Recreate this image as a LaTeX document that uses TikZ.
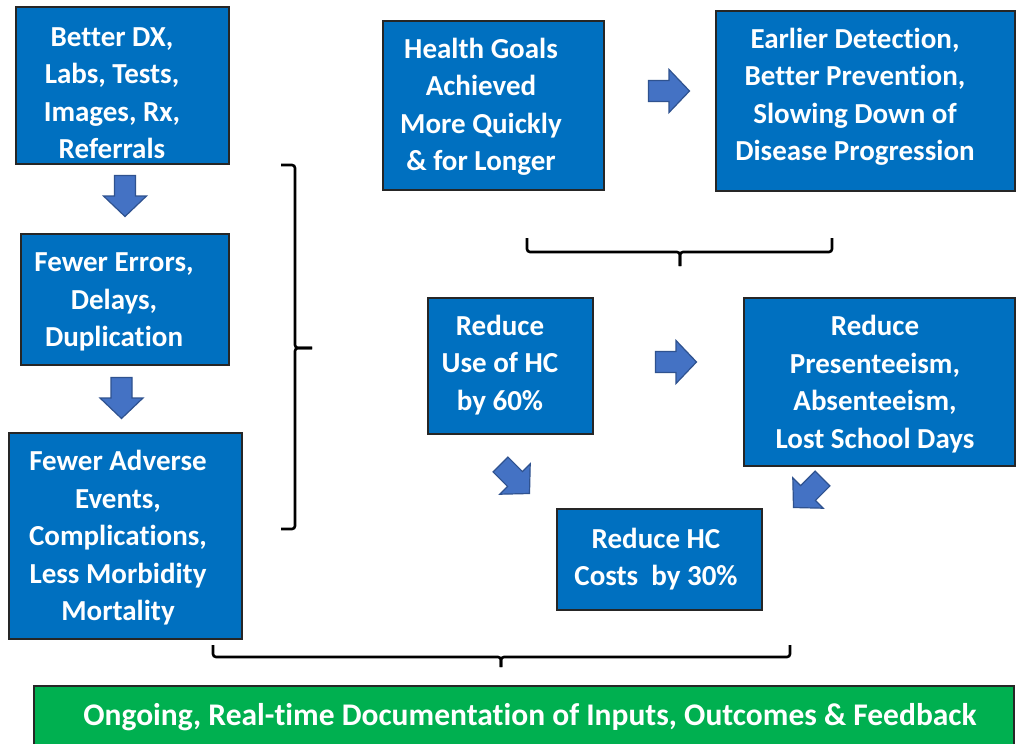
\documentclass[tikz,border=0pt]{standalone}
\usepackage{fontspec}
\setmainfont{Carlito}[RawFeature={-liga}]
\definecolor{boxblue}{HTML}{0070C0}
\definecolor{arrfill}{HTML}{4472C4}
\definecolor{arrline}{HTML}{2F528F}
\definecolor{boxgreen}{HTML}{00B050}
\newcommand\blockarrow[4]{%
  \begin{scope}[shift={(#2,#3)},rotate=#4]
    \path[barrow] (-20.5,-10.5) -- (0,-10.5) -- (0,-21.5) -- (20.5,0) -- (0,21.5) -- (0,10.5) -- (-20.5,10.5) -- cycle;
    \coordinate (#1) at (0,0);
  \end{scope}}
\tikzset{
  box/.style={draw=black!85, line width=1.5pt, fill=boxblue, anchor=north west, inner sep=0pt},
  gbox/.style={draw=black!85, line width=1.5pt, fill=boxgreen, anchor=north west, inner sep=0pt},
  txt/.style={text=white, font=\fontsize{29}{37.5}\selectfont\bfseries, align=center, inner sep=0pt},
  gtxt/.style={text=white, font=\fontsize{31.5}{37.5}\selectfont\bfseries, align=center, inner sep=0pt},
  barrow/.style={fill=arrfill, draw=arrline, line width=1.2pt, line join=miter},
  brace/.style={draw=black, line width=2.6pt, rounded corners=3pt}
}
\begin{document}
\begin{tikzpicture}[x=1pt,y=-1pt]
\useasboundingbox[fill=white] (0,0) rectangle (1017,744);
% boxes
\node[box, minimum width=213, minimum height=157] (b1) at (15,6) {};
\node[box, minimum width=208, minimum height=131] (b2) at (20,233) {};
\node[box, minimum width=233, minimum height=206] (b3) at (8,432) {};
\node[box, minimum width=221, minimum height=169] (b4) at (382,20) {};
\node[box, minimum width=299, minimum height=180] (b5) at (715,10) {};
\node[box, minimum width=165, minimum height=136] (b6) at (427,297) {};
\node[box, minimum width=271, minimum height=168] (b7) at (743,297) {};
\node[box, minimum width=205, minimum height=101] (b8) at (556,508) {};
\node[gbox, minimum width=980, minimum height=70] (g) at (33,685) {};
% texts
\node[txt] (t1) at (112,93) {Better DX,\\Labs, Tests,\\Images, Rx,\\Referrals};
\node[txt] (t2) at (114,302) {Fewer Errors,\\Delays,\\Duplication};
\node[txt] (t3) at (118,538) {Fewer Adverse\\Events,\\Complications,\\Less Morbidity\\Mortality};
\node[txt] (t4) at (481,107) {Health Goals\\Achieved\\More Quickly\\\& for Longer};
\node[txt] (t5) at (855,97) {Earlier Detection,\\Better Prevention,\\Slowing Down of\\Disease Progression};
\node[txt] (t6) at (500,365) {Reduce\\Use of HC\\by 60\%};
\node[txt] (t7) at (875,384) {Reduce\\Presenteeism,\\Absenteeism,\\Lost School Days};
\node[txt] (t8) at (656,559) {Reduce HC\\Costs\ \ by 30\%};
\node[gtxt] (tg) at (530,717) {Ongoing, Real-time Documentation of Inputs, Outcomes \& Feedback};
% block arrows
\blockarrow{a1}{125}{196}{-90}
\blockarrow{a2}{121.5}{398}{-90}
\blockarrow{a3}{669}{91}{0}
\blockarrow{a4}{676}{362}{0}
\blockarrow{a5}{515}{479}{-45}
\blockarrow{a6}{808}{493}{-135}
% braces
\path[brace] (281,165) -- (295,165) -- (295,348) -- (312,348);
\path[brace] (312,348) -- (295,348) -- (295,529) -- (281,529);
\path[brace] (527,238) -- (527,252) -- (680,252) -- (680,266);
\path[brace] (680,266) -- (680,252) -- (832,252) -- (832,238);
\path[brace] (213,645) -- (213,657) -- (501,657) -- (501,667);
\path[brace] (501,667) -- (501,657) -- (790,657) -- (790,645);
\end{tikzpicture}
\end{document}
